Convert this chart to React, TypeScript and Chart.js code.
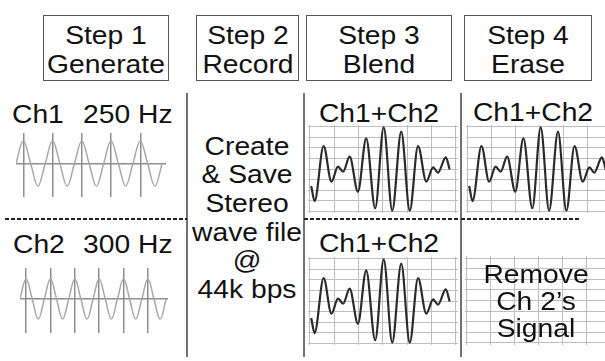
import React, { useEffect, useRef } from "react";
import { Chart, registerables } from "chart.js";

Chart.register(...registerables);

// ---------- text ----------
const stepTitles = ["Step 1", "Step 2", "Step 3", "Step 4"];
const stepNames = ["Generate", "Record", "Blend", "Erase"];
const channelNames = ["Ch1", "Ch2"];
const channelFreqLabels = ["250 Hz", "300 Hz"];
const recordLines = ["Create", "& Save", "Stereo", "wave file", "@", "44k bps"];
const blendLabel = "Ch1+Ch2";
const eraseLines = ["Remove", "Ch 2\u2019s", "Signal"];

// ---------- data ----------
// Ch1 250 Hz: time (ms) at quarter periods, amplitude
const ch1Time = [0, 1, 2, 3, 4, 5, 6, 7, 8, 9, 10, 11, 12, 13, 14, 15, 16, 17, 18, 19, 20];
const ch1Amp = [0, 1, 0, -1, 0, 1, 0, -1, 0, 1, 0, -1, 0, 1, 0, -1, 0, 1, 0, -1, 0];
const ch1Peaks = [1, 5, 9, 13, 17];
// Ch2 300 Hz
const ch2Time = [0, 0.83, 1.67, 2.5, 3.33, 4.17, 5, 5.83, 6.67, 7.5, 8.33, 9.17, 10, 10.83, 11.67, 12.5, 13.33, 14.17, 15, 15.83, 16.67, 17.5, 18.33, 19.17, 20];
const ch2Amp = [0, 1, 0, -1, 0, 1, 0, -1, 0, 1, 0, -1, 0, 1, 0, -1, 0, 1, 0, -1, 0, 1, 0, -1, 0];
const ch2Peaks = [0.83, 4.17, 7.5, 10.83, 14.17, 17.5];
const sineAxis = [0];
// Ch1+Ch2 blended wave (grid units)
const blendX = [0.05, 0.19, 0.56, 0.88, 1.15, 1.36, 1.63, 1.97, 2.31, 2.68, 3.03, 3.38, 3.75, 4.1, 4.44, 4.78, 5.06, 5.26, 5.58, 5.74];
const blendY = [-1.62, -3.05, 2.19, -1.21, 0.22, -0.26, 1.17, -2.16, 2.92, -3.74, 3.97, -3.97, 3.55, -3.97, 2.19, -1.21, 0.16, -0.35, 1.11, -0.03];
const emptyX: number[] = [];
const emptyY: number[] = [];
const gridCols = [0, 1, 2, 3, 4, 5, 6];
const gridRows = [-4, -3, -2, -1, 0, 1, 2, 3, 4];

type MiniProps = {
  left: number; top: number; width: number; height: number;
  xs: number[]; ys: number[];
  xMin: number; xMax: number; yMin: number; yMax: number;
  xGrid: number[]; yGrid: number[];
  gridColor: string; gridWidth: number;
  lineColor: string; lineWidth: number; mode: "sine" | "wave";
};

function MiniChart(p: MiniProps) {
  const ref = useRef<HTMLCanvasElement>(null);
  useEffect(() => {
    const canvas = ref.current;
    if (!canvas) return;
    const ds: any[] = p.xs.length
      ? [{
          data: p.xs.map((x, i) => ({ x, y: p.ys[i] })),
          borderColor: p.lineColor,
          borderWidth: p.lineWidth,
          pointRadius: 0,
          fill: false,
          tension: p.mode === "sine" ? 0.4 : 0,
          cubicInterpolationMode: p.mode === "wave" ? "monotone" : "default",
        }]
      : [];
    const chart = new Chart(canvas, {
      type: "line",
      data: { datasets: ds },
      options: {
        responsive: false,
        animation: false,
        devicePixelRatio: 1,
        events: [],
        layout: { padding: 0 },
        plugins: { legend: { display: false }, tooltip: { enabled: false } },
        scales: {
          x: {
            type: "linear", min: p.xMin, max: p.xMax,
            ticks: { display: false },
            grid: { color: p.gridColor, lineWidth: p.gridWidth, drawTicks: false },
            border: { display: false },
            afterBuildTicks: (ax: any) => { ax.ticks = p.xGrid.map((v) => ({ value: v })); },
          },
          y: {
            type: "linear", min: p.yMin, max: p.yMax,
            ticks: { display: false },
            grid: { color: p.gridColor, lineWidth: p.gridWidth, drawTicks: false },
            border: { display: false },
            afterBuildTicks: (ax: any) => { ax.ticks = p.yGrid.map((v) => ({ value: v })); },
          },
        },
      } as any,
    });
    return () => chart.destroy();
  }, []);
  return (
    <canvas
      ref={ref}
      width={p.width}
      height={p.height}
      style={{ position: "absolute", left: p.left, top: p.top, width: p.width, height: p.height }}
    />
  );
}

const SX = 1.13;
const FONT = 25;
const INK = "#111111";

function CText({ text, cx, baseline }: { text: string; cx: number; baseline: number }) {
  return (
    <div
      style={{
        position: "absolute", left: cx, top: baseline - 21.2, fontSize: FONT, lineHeight: "25px",
        whiteSpace: "nowrap", transform: `translateX(-50%) scaleX(${SX})`, color: INK,
      }}
    >
      {text}
    </div>
  );
}

function LText({ text, x, baseline }: { text: string; x: number; baseline: number }) {
  return (
    <div
      style={{
        position: "absolute", left: x, top: baseline - 21.2, fontSize: FONT, lineHeight: "25px",
        whiteSpace: "nowrap", transform: `scaleX(${SX})`, transformOrigin: "left center", color: INK,
      }}
    >
      {text}
    </div>
  );
}

function Dash({ x1, x2, y }: { x1: number; x2: number; y: number }) {
  return (
    <div
      style={{
        position: "absolute", left: x1, top: y - 1, width: x2 - x1, height: 2,
        backgroundImage: "repeating-linear-gradient(to right, #222 0px, #222 4px, transparent 4px, transparent 6px)",
      }}
    />
  );
}

function VLine({ x }: { x: number }) {
  return <div style={{ position: "absolute", left: x - 1, top: 93, width: 2, height: 264, background: "#727272" }} />;
}

const boxes = [
  { l: 43, r: 169 },
  { l: 196, r: 299 },
  { l: 306, r: 452 },
  { l: 464, r: 592 },
];

export default function App() {
  const sineGrid = "#8e8e8e";
  const sineLine = "#a8a8a8";
  const waveGrid = "#bdbdbd";
  const waveLine = "#2a2a2a";
  return (
    <div
      style={{
        position: "fixed", left: 0, top: 0, width: 605, height: 361, overflow: "hidden",
        background: "#ffffff", fontFamily: "'Liberation Sans', Arial, Helvetica, sans-serif",
      }}
    >
      {boxes.map((b, i) => (
        <div key={"b" + i}>
          <div
            style={{
              position: "absolute", left: b.l, top: 15, width: b.r - b.l, height: 66,
              border: "1.5px solid #555", boxSizing: "border-box",
            }}
          />
          <CText text={stepTitles[i]} cx={(b.l + b.r) / 2} baseline={44} />
          <CText text={stepNames[i]} cx={(b.l + b.r) / 2} baseline={73} />
        </div>
      ))}

      <VLine x={187} />
      <VLine x={304} />
      <VLine x={461} />

      {/* Column 1 */}
      <LText text={channelNames[0]} x={12} baseline={123} />
      <LText text={channelFreqLabels[0]} x={83} baseline={123} />
      <MiniChart left={16} top={133} width={150} height={64}
        xs={ch1Time} ys={ch1Amp} xMin={0} xMax={20.52} yMin={-1.49} yMax={1.35}
        xGrid={ch1Peaks} yGrid={sineAxis} gridColor={sineGrid} gridWidth={1.5}
        lineColor={sineLine} lineWidth={1.5} mode="sine" />
      <Dash x1={5} x2={187} y={219} />
      <LText text={channelNames[1]} x={13} baseline={253} />
      <LText text={channelFreqLabels[1]} x={83} baseline={253} />
      <MiniChart left={20} top={268} width={148} height={65}
        xs={ch2Time} ys={ch2Amp} xMin={0} xMax={20.25} yMin={-1.7} yMax={1.55}
        xGrid={ch2Peaks} yGrid={sineAxis} gridColor={sineGrid} gridWidth={1.5}
        lineColor={sineLine} lineWidth={1.5} mode="sine" />

      {/* Column 2 */}
      {recordLines.map((t, i) => (
        <CText key={"r" + i} text={t} cx={247} baseline={155 + i * 28.6} />
      ))}

      {/* Column 3 */}
      <CText text={blendLabel} cx={379} baseline={122} />
      <MiniChart left={308} top={125} width={150} height={88}
        xs={blendX} ys={blendY} xMin={-0.082} xMax={6.083} yMin={-4.19} yMax={4.19}
        xGrid={gridCols} yGrid={gridRows} gridColor={waveGrid} gridWidth={1}
        lineColor={waveLine} lineWidth={2.2} mode="wave" />
      <Dash x1={304} x2={460} y={219} />
      <CText text={blendLabel} cx={379} baseline={252} />
      <MiniChart left={308} top={257} width={150} height={88}
        xs={blendX} ys={blendY} xMin={-0.082} xMax={6.083} yMin={-4.19} yMax={4.19}
        xGrid={gridCols} yGrid={gridRows} gridColor={waveGrid} gridWidth={1}
        lineColor={waveLine} lineWidth={2.2} mode="wave" />

      {/* Column 4 */}
      <CText text={blendLabel} cx={533} baseline={121} />
      <MiniChart left={466} top={125} width={150} height={88}
        xs={blendX} ys={blendY} xMin={-0.083} xMax={6.167} yMin={-4.19} yMax={4.19}
        xGrid={gridCols} yGrid={gridRows} gridColor={waveGrid} gridWidth={1}
        lineColor={waveLine} lineWidth={2.2} mode="wave" />
      <Dash x1={461} x2={580} y={219} />
      <MiniChart left={465} top={256} width={150} height={89}
        xs={emptyX} ys={emptyY} xMin={-0.083} xMax={6.167} yMin={-4.19} yMax={4.19}
        xGrid={gridCols} yGrid={gridRows} gridColor={waveGrid} gridWidth={1}
        lineColor={waveLine} lineWidth={2.2} mode="wave" />
      {eraseLines.map((t, i) => (
        <CText key={"e" + i} text={t} cx={535.5} baseline={283 + i * 27} />
      ))}
    </div>
  );
}
